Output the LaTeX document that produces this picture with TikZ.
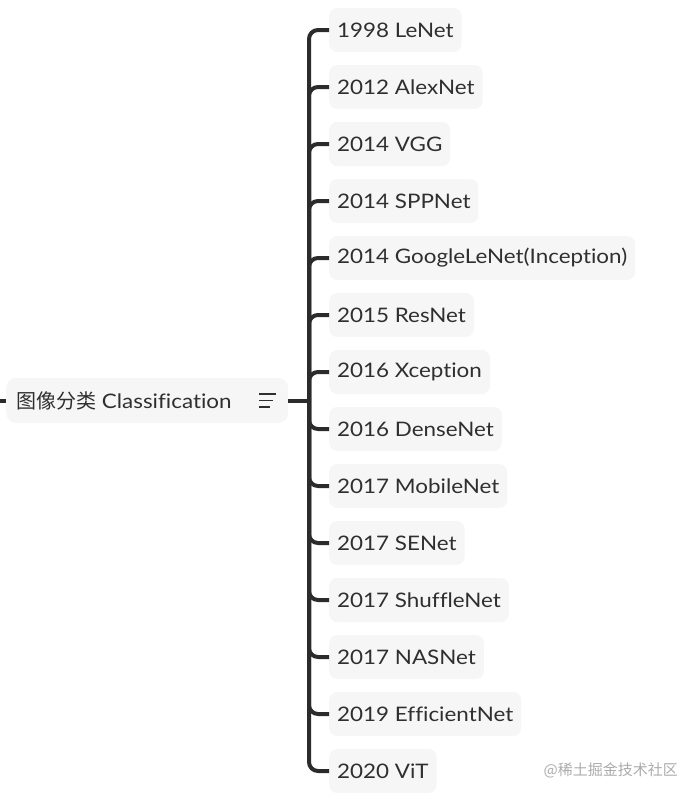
\documentclass[tikz,border=0pt]{standalone}
\usepackage{fontspec}
\setmainfont{Lato}[FakeStretch=1.12,Ligatures=NoCommon]
\newfontfamily\cjk{Noto Sans CJK SC}
\definecolor{boxfill}{HTML}{F6F6F6}
\definecolor{txt}{HTML}{2F2F2F}
\definecolor{linec}{HTML}{2B2B2B}
\definecolor{wm}{HTML}{ABABAB}
\begin{document}
\begin{tikzpicture}[x=1pt,y=-1pt,
  leaf/.style={anchor=west,fill=boxfill,rounded corners=8pt,minimum height=44pt,inner xsep=8pt,text=txt,font=\fontsize{20}{22}\selectfont},
  rootbox/.style={anchor=west,fill=boxfill,rounded corners=10pt,minimum height=45pt,minimum width=282pt,text=txt,font=\fontsize{20}{22}\selectfont},
  conn/.style={draw=linec,line width=4pt,rounded corners=9pt}]
\useasboundingbox (0,0) rectangle (698,798);
\node[rootbox] (root) at (6,400.5) {};
\node[anchor=west,text=txt,font=\fontsize{20}{22}\selectfont,inner sep=0pt] (roottext) at (16,400.5) {{\cjk 图像分类} Classification};
\draw[txt,line width=1.4pt] (259,394) -- (276,394) (259,400.5) -- (273,400.5) (259,407) -- (270,407);
\coordinate (lstub) at (0,400.5);
\coordinate (bus) at (309,400.5);
\draw[conn] (lstub) -- (root.west);
\draw[conn] (root.east) -- (bus);
\foreach \n/\y/\t in {a/30/1998 LeNet,b/87/2012 AlexNet,c/144/2014 VGG,d/201/2014 SPPNet,e/258/2014 GoogleLeNet(Inception),f/315/2015 ResNet,g/372/2016 Xception,h/429/2016 DenseNet,i/486/2017 MobileNet,j/543/2017 SENet,k/600/2017 ShuffleNet,l/657/2017 NASNet,m/714/2019 EfficientNet,n/771/2020 ViT}{
  \node[leaf] (\n) at (329,\y) {\t};
  \draw[conn] (bus) |- (\n.west);
}
\node[anchor=east,text=wm,font=\cjk\fontsize{15}{17}\selectfont,inner sep=0pt] (wmark) at (678,770) {@稀土掘金技术社区};
\end{tikzpicture}
\end{document}
